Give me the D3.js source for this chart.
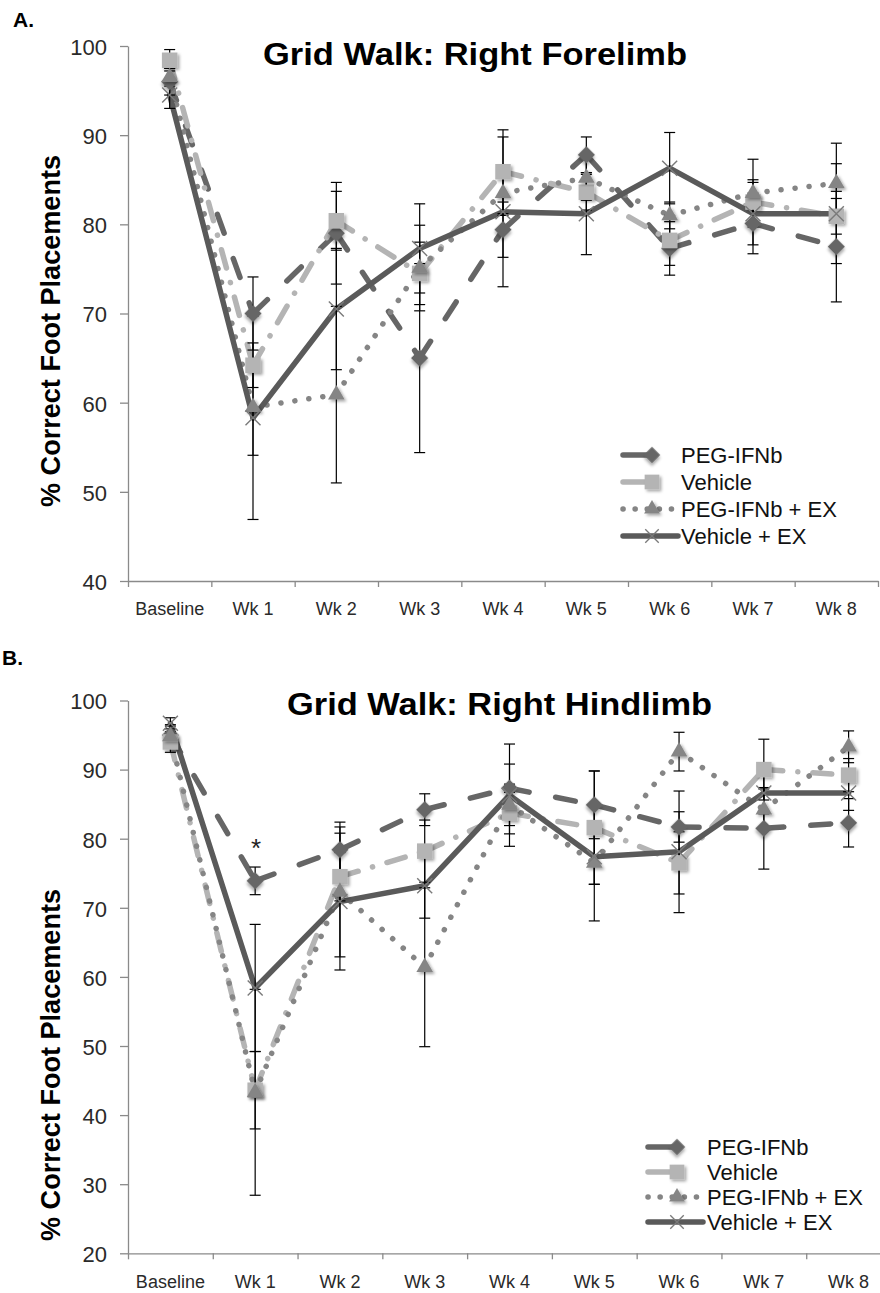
<!DOCTYPE html>
<html><head><meta charset="utf-8">
<script src="https://cdn.jsdelivr.net/npm/d3@7"></script>
<style>body{margin:0;background:#fff}svg{display:block}</style>
</head><body>
<svg id="c" width="880" height="1293"></svg>
<script>
// ---------------- DATA ----------------
const categories = ["Baseline","Wk 1","Wk 2","Wk 3","Wk 4","Wk 5","Wk 6","Wk 7","Wk 8"];
const seriesNames = ["PEG-IFNb","Vehicle","PEG-IFNb + EX","Vehicle + EX"];
const foreTicks = [40,50,60,70,80,90,100];
const hindTicks = [20,30,40,50,60,70,80,90,100];

// Panel A: Right Forelimb (means)
const forePEG    = [96.0, 70.0, 79.0, 65.0, 79.4, 87.8, 77.3, 80.1, 77.5];
const foreVeh    = [98.4, 64.2, 80.4, 74.5, 85.9, 83.6, 78.2, 82.5, 80.9];
const forePEGEX  = [96.5, 59.5, 60.9, 75.1, 83.5, 85.2, 81.0, 83.5, 84.6];
const foreVehEX  = [94.5, 58.3, 70.5, 77.3, 81.4, 81.2, 86.3, 81.2, 81.2];
// Panel A: error (+/-)
const foreErrPEG   = [1.5, 4.1, 5.7, 10.6, 3.1, 2.0, 3.0, 3.4, 6.2];
const foreErrVeh   = [1.2, 2.5, 3.3, 3.5, 4.7, 2.0, 2.8, 2.5, 2.0];
const foreErrPEGEX = [1.0, 5.4, 9.9, 4.8, 2.5, 2.5, 1.5, 3.8, 4.5];
const foreErrVehEX = [1.5, 11.4, 6.8, 5.0, 8.4, 4.6, 4.0, 3.5, 5.6];

// Panel B: Right Hindlimb (means)
const hindPEG    = [95.0, 73.9, 78.4, 84.2, 87.3, 84.9, 81.7, 81.5, 82.3];
const hindVeh    = [94.0, 43.6, 74.5, 78.2, 83.7, 81.6, 76.5, 90.0, 89.2];
const hindPEGEX  = [94.8, 43.3, 72.3, 61.4, 84.9, 76.5, 92.6, 84.2, 93.3];
const hindVehEX  = [96.7, 58.4, 70.9, 73.2, 86.3, 77.4, 78.1, 86.6, 86.6];
// Panel B: error (+/-)
const hindErrPEG   = [1.5, 2.0, 4.0, 2.3, 3.5, 4.9, 2.2, 5.9, 3.5];
const hindErrVeh   = [1.5, 5.6, 3.5, 4.5, 3.0, 8.2, 4.5, 4.4, 2.4];
const hindErrPEGEX = [1.5, 14.9, 9.4, 11.5, 3.0, 8.4, 2.8, 3.0, 2.3];
const hindErrVehEX = [0.8, 9.2, 9.9, 4.7, 7.4, 4.0, 8.8, 3.0, 2.5];

// ---------------- STYLES ----------------
const styles = [
  {color:"#666666", dash:"20 27", marker:"diamond"},
  {color:"#b4b4b4", dash:"19 15 0.1 15", marker:"square"},
  {color:"#858585", dash:"0.1 14", marker:"triangle"},
  {color:"#5a5a5a", dash:null, marker:"x"}
];
const FONT = "'Liberation Sans', Arial, sans-serif";
const axisColor = "#8a8a8a";

const svg = d3.select("#c");
const defs = svg.append("defs");
const f = defs.append("filter").attr("id","sh").attr("x","-50%").attr("y","-50%").attr("width","200%").attr("height","200%");
f.append("feDropShadow").attr("dx",2).attr("dy",2).attr("stdDeviation",1.5)
 .attr("flood-color","#000").attr("flood-opacity",0.35);

function drawMarker(g, type, cx, cy, color, scale=1){
  if(type==="diamond"){
    g.append("path").attr("d", d3.symbol(d3.symbolSquare, 150*scale)())
      .attr("transform",`translate(${cx},${cy}) rotate(45)`).attr("fill",color).attr("filter","url(#sh)");
  } else if(type==="square"){
    g.append("path").attr("d", d3.symbol(d3.symbolSquare, 240*scale)())
      .attr("transform",`translate(${cx},${cy})`).attr("fill",color).attr("filter","url(#sh)");
  } else if(type==="triangle"){
    g.append("path").attr("d", d3.symbol(d3.symbolTriangle, 120*scale)())
      .attr("transform",`translate(${cx},${cy})`).attr("fill",color).attr("filter","url(#sh)");
  } else {
    const r = 7.5*scale;
    g.append("path").attr("d",`M${-r},${-r}L${r},${r}M${-r},${r}L${r},${-r}`)
      .attr("transform",`translate(${cx},${cy})`).attr("stroke","#7a7a7a").attr("stroke-width",1.4)
      .attr("fill","none");
  }
}

function drawPanel(cfg){
  const g = svg.append("g");
  const x = d3.scaleBand().domain(categories).range([cfg.x0, cfg.x1]).padding(0);
  const xc = c => x(c) + x.bandwidth()/2;
  const y = d3.scaleLinear().domain(cfg.domain).range([cfg.yb, cfg.yt]);

  // y axis
  const ya = g.append("g").attr("transform",`translate(${cfg.x0},0)`)
    .call(d3.axisLeft(y).tickValues(cfg.ticks).tickSize(8).tickSizeOuter(0).tickPadding(13));
  ya.selectAll("path,line").attr("stroke",axisColor).attr("stroke-width",1.3);
  ya.selectAll("text").attr("font-family",FONT).attr("font-size",22).attr("fill","#2a2a2a").attr("dy","0.38em");

  // x axis boundaries
  const xl = d3.scaleLinear().domain([0,categories.length]).range([cfg.x0,cfg.x1]);
  const xa = g.append("g").attr("transform",`translate(0,${cfg.yb})`)
    .call(d3.axisBottom(xl).tickValues(d3.range(categories.length+1)).tickSize(6).tickSizeOuter(0).tickFormat(""));
  xa.selectAll("path,line").attr("stroke",axisColor).attr("stroke-width",1.3);
  const xt = g.append("g").attr("transform",`translate(0,${cfg.yb})`)
    .call(d3.axisBottom(x).tickSize(0).tickPadding(21.5));
  xt.select(".domain").remove();
  xt.selectAll("text").attr("font-family",FONT).attr("font-size",18).attr("fill","#2a2a2a");

  const line = d3.line().x(d=>xc(categories[d.i])).y(d=>y(d.v));
  // lines (dash pattern restarts at each data point, as in the source)
  cfg.series.forEach((s,k)=>{
    const st = styles[k];
    const lg = g.append("g");
    for(let i=0;i<s.v.length-1;i++){
      lg.append("path").datum([{i:i,v:s.v[i]},{i:i+1,v:s.v[i+1]}]).attr("d",line).attr("fill","none")
        .attr("stroke",st.color).attr("stroke-width",5.5).attr("stroke-linecap","round")
        .attr("stroke-linejoin","round").attr("stroke-dasharray",st.dash);
    }
  });
  // error bars
  cfg.series.forEach((s,k)=>{
    const eg = g.append("g").attr("stroke","#000").attr("stroke-width",1.2);
    s.v.forEach((v,i)=>{
      const cx = xc(categories[i]);
      const lo = y(v - s.e[i]), hi = y(v + s.e[i]);
      eg.append("line").attr("x1",cx).attr("x2",cx).attr("y1",lo).attr("y2",hi);
      eg.append("line").attr("x1",cx-5.5).attr("x2",cx+5.5).attr("y1",lo).attr("y2",lo);
      eg.append("line").attr("x1",cx-5.5).attr("x2",cx+5.5).attr("y1",hi).attr("y2",hi);
    });
  });
  // markers
  cfg.series.forEach((s,k)=>{
    const st = styles[k];
    const mg = g.append("g");
    s.v.forEach((v,i)=> drawMarker(mg, st.marker, xc(categories[i]), y(v), st.color));
  });

  // titles
  g.append("text").attr("x",cfg.titleX).attr("y",cfg.titleY).text(cfg.title)
    .attr("font-family",FONT).attr("font-weight","bold").attr("font-size",31)
    .attr("textLength",cfg.titleW).attr("lengthAdjust","spacingAndGlyphs").attr("fill","#000");
  g.append("text").attr("x",cfg.labX).attr("y",cfg.labY).text(cfg.label)
    .attr("font-family",FONT).attr("font-weight","bold").attr("font-size",21).attr("fill","#000");
  g.append("text").attr("transform",`translate(60,${cfg.ylabY}) rotate(-90)`)
    .attr("text-anchor","middle").text("% Correct Foot Placements")
    .attr("font-family",FONT).attr("font-weight","bold").attr("font-size",28)
    .attr("textLength",352).attr("lengthAdjust","spacingAndGlyphs").attr("fill","#000");

  // legend
  const lg = g.append("g");
  seriesNames.forEach((n,k)=>{
    const st = styles[k];
    const ly = cfg.legY + k*cfg.legDy;
    const x2 = k<2 ? cfg.legMx : cfg.legX1;
    lg.append("line").attr("x1",cfg.legX0).attr("x2",x2).attr("y1",ly).attr("y2",ly)
      .attr("stroke",st.color).attr("stroke-width",5.5).attr("stroke-linecap","round")
      .attr("stroke-dasharray", k===2 ? "0.1 12" : null);
    drawMarker(lg, st.marker, cfg.legMx, ly, st.color, 0.9);
    lg.append("text").attr("x",cfg.legTx).attr("y",ly+8).text(n)
      .attr("font-family",FONT).attr("font-size",22).attr("fill","#111");
  });
  return {x,xc,y,g};
}

drawPanel({
  x0:128, x1:878, yb:581, yt:46, domain:[40,100], ticks:foreTicks,
  series:[{v:forePEG,e:foreErrPEG},{v:foreVeh,e:foreErrVeh},{v:forePEGEX,e:foreErrPEGEX},{v:foreVehEX,e:foreErrVehEX}],
  title:"Grid Walk: Right Forelimb", titleX:263, titleY:65, titleW:424,
  label:"A.", labX:13, labY:27, ylabY:331,
  legX0:623, legX1:678, legMx:652, legTx:681, legY:455, legDy:27
});
const B = drawPanel({
  x0:128, x1:891, yb:1253.3, yt:700.5, domain:[20,100], ticks:hindTicks,
  series:[{v:hindPEG,e:hindErrPEG},{v:hindVeh,e:hindErrVeh},{v:hindPEGEX,e:hindErrPEGEX},{v:hindVehEX,e:hindErrVehEX}],
  title:"Grid Walk: Right Hindlimb", titleX:287, titleY:715, titleW:425,
  label:"B.", labX:2, labY:665, ylabY:1065,
  legX0:648, legX1:703, legMx:677, legTx:707, legY:1147, legDy:25
});
// significance marker at Wk 1 (panel B)
B.g.append("text").attr("x",B.xc("Wk 1")+1).attr("y",B.y(hindPEG[1]+5.8)+16).attr("text-anchor","middle")
  .text("*").attr("font-family",FONT).attr("font-size",26).attr("fill","#222");
</script>
</body></html>
